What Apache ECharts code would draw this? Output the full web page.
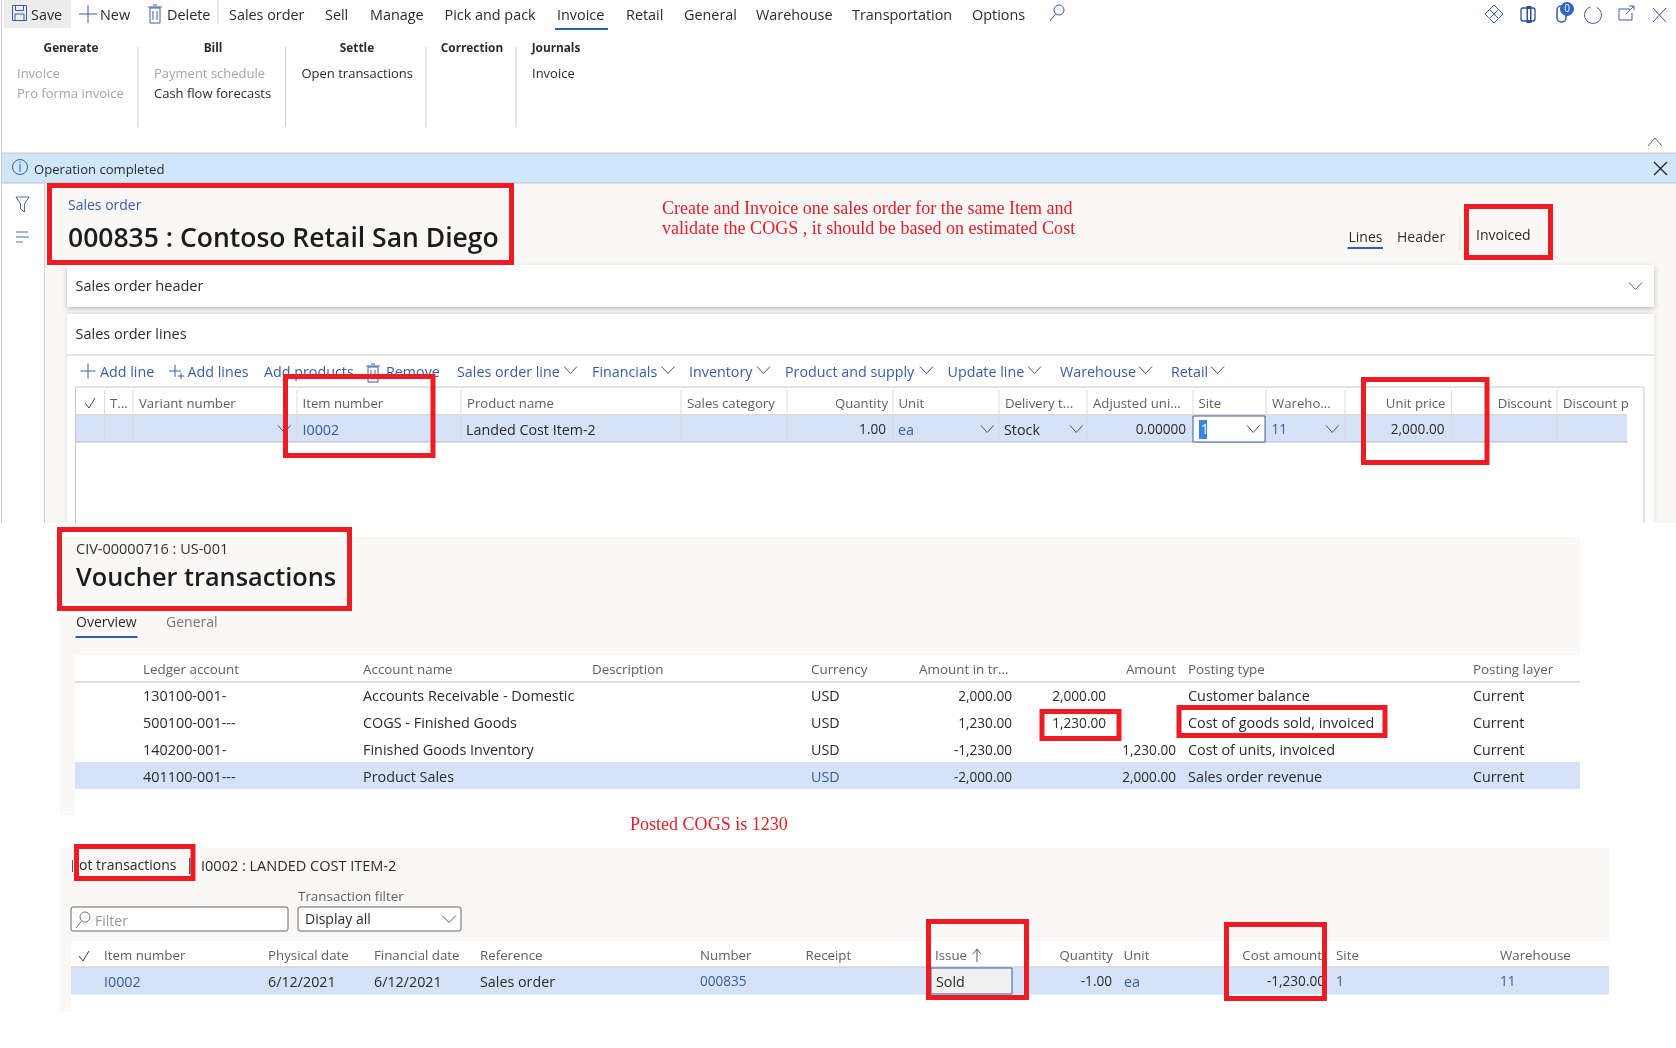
<!DOCTYPE html>
<html><head><meta charset="utf-8">
<style>html,body{margin:0;padding:0;background:#fff}#c{width:1676px;height:1048px}</style>
<script src="https://cdn.jsdelivr.net/npm/echarts@6/dist/echarts.min.js"></script>
</head><body><div id="c"></div>
<script>
// ---------- content ----------
const commandLabels = ['Save','New','Delete','Sales order','Sell','Manage','Pick and pack','Invoice','Retail','General','Warehouse','Transportation','Options'];
const ribbonGroups = ['Generate','Bill','Settle','Correction','Journals'];
const ribbonFirst = ['Invoice','Payment schedule','Open transactions','Invoice'];
const ribbonSecond = ['Pro forma invoice','Cash flow forecasts'];
const noticeText = 'Operation completed';
const orderCrumb = 'Sales order';
const orderTitle = '000835 : Contoso Retail San Diego';
const noteLines = ['Create and Invoice one sales order for the same Item and','validate the COGS , it should be based on estimated Cost'];
const orderTabs = ['Lines','Header','Invoiced'];
const cardTitles = ['Sales order header','Sales order lines'];
const toolbarLabels = ['Add line','Add lines','Add products','Remove','Sales order line','Financials','Inventory','Product and supply','Update line','Warehouse','Retail'];
const orderHeaders = ['T...','Variant number','Item number','Product name','Sales category','Quantity','Unit','Delivery t...','Adjusted uni...','Site','Wareho...','Unit price','Discount','Discount p'];
const orderRow = ['','','I0002','Landed Cost Item-2','','1.00','ea','Stock','0.00000','1','11','2,000.00','',''];
const voucherCrumb = 'CIV-00000716 : US-001';
const voucherTitle = 'Voucher transactions';
const voucherTabs = ['Overview','General'];
const voucherHeaders = ['Ledger account','Account name','Description','Currency','Amount in tr...','Amount','Posting type','Posting layer'];
const ledgerAccounts = ['130100-001-','500100-001---','140200-001-','401100-001---'];
const accountNames = ['Accounts Receivable - Domestic','COGS - Finished Goods','Finished Goods Inventory','Product Sales'];
const currencies = ['USD','USD','USD','USD'];
const amountsInTransaction = ['2,000.00','1,230.00','-1,230.00','-2,000.00'];
const debitAmounts = ['2,000.00','1,230.00','',''];
const creditAmounts = ['','','1,230.00','2,000.00'];
const postingTypes = ['Customer balance','Cost of goods sold, invoiced','Cost of units, invoiced','Sales order revenue'];
const postingLayers = ['Current','Current','Current','Current'];
const postedNote = 'Posted COGS is 1230';
const lotCrumb = ['ot transactions','I0002 : LANDED COST ITEM-2'];
const filterLabels = ['Transaction filter','Filter','Display all'];
const lotHeaders = ['Item number','Physical date','Financial date','Reference','Number','Receipt','Issue','Quantity','Unit','Cost amount','Site','Warehouse'];
const lotRow = ['I0002','6/12/2021','6/12/2021','Sales order','000835','','Sold','-1.00','ea','-1,230.00','1','11'];

// ---------- layout & style ----------
const UI = '"Open Sans","Noto Sans",sans-serif';
const SERIF = '"Liberation Serif",serif';
const INK = '#2b2b2b', GREY = '#5f5f5f', MUTE = '#a6a6a6', LINK = '#3a5ca3', RED = '#ed1c24', HILITE = '#d5e2f8', RULE = '#c6c6c6', PANE = '#f9f8f7';
const els = [];
function T(text, x, y, o) {
  o = o || {};
  if (text === '') return;
  const size = o.s || (/^[-\d,.]+$/.test(text) ? 13.6 : 14.3);
  els.push({type:'text', silent:true, z:o.z||3, style:{text, x, y:y+1, fill:o.c||INK, align:o.a||'left', verticalAlign:'middle',
    font:`${o.w||400} ${size}px ${o.f||UI}`}});
}
function R(x, y, w, h, fill, o) {
  o = o || {};
  els.push({type:'rect', silent:true, z:o.z||1, shape:{x, y, width:w, height:h, r:o.r||0},
    style:{fill, stroke:o.st||null, lineWidth:o.lw||1, shadowBlur:o.sb||0, shadowColor:o.sc||'transparent', shadowOffsetY:o.sy||0}});
}
function L(pts, c, o) {
  o = o || {};
  els.push({type:'polyline', silent:true, z:o.z||2, shape:{points:pts}, style:{stroke:c, lineWidth:o.lw||1, fill:null}});
}
function C(cx, cy, r, c, o) {
  o = o || {};
  els.push({type:'circle', silent:true, z:o.z||2, shape:{cx, cy, r}, style:{stroke:c, lineWidth:o.lw||1, fill:o.fill||null}});
}
function box(x0, y0, x1, y1) {
  const t = 5;
  els.push({type:'rect', silent:true, z:10, shape:{x:x0+t/2, y:y0+t/2, width:x1-x0-t, height:y1-y0-t},
    style:{fill:null, stroke:RED, lineWidth:t}});
}
function chev(x, y, c, w) { w=w||13; L([[x,y-3.5],[x+w/2,y+3.5],[x+w,y-3.5]], c||'#555'); }
function plus(x, y, s, c) { L([[x-s,y],[x+s,y]],c); L([[x,y-s],[x,y+s]],c); }
function trash(x, y, c) {
  R(x+1,y+3,10,15,null,{st:c,z:2}); L([[x-1,y+2],[x+13,y+2]],c); L([[x+4,y],[x+8,y]],c);
  L([[x+4,y+6],[x+4,y+15]],c); L([[x+8,y+6],[x+8,y+15]],c);
}
function vline(x, y0, y1, c) { L([[x,y0],[x,y1]], c||'#d8d8d8'); }
function hline(x0, x1, y, c) { L([[x0,y],[x1,y]], c||RULE); }
function search(x, y, c) { C(x+9,y+5,5,c); L([[x+5.5,y+9],[x,y+16]],c); }

// ---- page panes
R(45,184,1631,339,PANE);
R(2,153,1674,30,'#cfe6fb');
hline(2,1676,153,'#c4c8cc'); hline(2,1676,183,'#b9c2c9');
vline(1.5,0,523,'#cfcfcf'); vline(44.5,184,523,'#cfcfcf');

// ---- command bar
R(4,0,67,28,'#ececec');
const commandX = [31,100,167,229,325,370,444.5,557,626,684,756,852,972];
commandLabels.forEach((t,i)=>T(t,commandX[i],15,{s:14.4}));
R(12.5,5.5,14,15,null,{st:LINK}); R(15.5,5.5,8,5,null,{st:LINK}); R(15,14,9,6.5,null,{st:LINK});
plus(88,14,9,LINK);
trash(149,5,LINK);
vline(218,0,24,'#dadada');
R(555,28,53,2,'#2f5fb3');
search(1050,5,LINK);
L([[1494,5],[1503,14],[1494,23],[1485,14],[1494,5]],LINK); L([[1490,10],[1498,18]],LINK); L([[1498,10],[1490,18]],LINK);
R(1521,8,14,13,null,{st:'#2c4f97',lw:1.3,r:2}); R(1526.5,6,5,17,'#2c4f97'); R(1528,9,2,11,'#fff',{z:2});
R(1557,6,9,16,null,{st:LINK,lw:1.5,r:4});
C(1567,9,6.5,'#2f63c4',{fill:'#2f63c4'}); T('0',1567,8,{c:'#fff',s:10,a:'center',z:4});
els.push({type:'arc',silent:true,z:2,shape:{cx:1593,cy:15,r:8.5,startAngle:-1.1,endAngle:-1.9,clockwise:true},style:{stroke:LINK,lineWidth:1,fill:null}});
L([[1630,9],[1619,9],[1619,20],[1632,20],[1632,13]],LINK); L([[1626,14],[1634,6]],LINK); L([[1629,6],[1634,6],[1634,10]],LINK);
L([[1653,8],[1666,22]],LINK); L([[1666,8],[1653,22]],LINK);

// ---- ribbon
const ribbonCenters = [71,213,357,472,556];
ribbonGroups.forEach((t,i)=>T(t,ribbonCenters[i],48,{w:700,s:11.8,a:'center'}));
const firstX = [17,154,301.5,532];
const firstC = [MUTE,MUTE,INK,INK];
ribbonFirst.forEach((t,i)=>T(t,firstX[i],73,{c:firstC[i],s:13}));
T(ribbonSecond[0],17,93,{c:MUTE,s:13});
T(ribbonSecond[1],154,93,{s:13});
[138,285.5,426,516].forEach(x=>vline(x,47,127,'#cfcfcf'));
L([[1648,146],[1655,138],[1662,146]],'#666');

// ---- notice
C(20,167,7.5,LINK); vline(20,164,172,LINK); R(19.5,161.5,1,1.5,LINK,{z:2});
T(noticeText,34,169.5,{s:13.1});
L([[1654,162],[1667,175]],'#222',{lw:1.2}); L([[1667,162],[1654,175]],'#222',{lw:1.2});

// ---- side icons
L([[16,197],[29,197],[24.5,204],[24.5,212],[20.5,209],[20.5,204],[16,197]],'#4a6aad');
[232,237,242].forEach((y,i)=>hline(16,i==1?29:(i==0?28:23),y,'#4a6aad'));

// ---- order header
T(orderCrumb,68,205,{c:LINK,s:14});
T(orderTitle,68,238.5,{s:26.5,w:600,c:'#1c1c1c'});
noteLines.forEach((t,i)=>T(t,662,208+20*i,{c:'#e3202a',s:18.05,f:SERIF}));
T(orderTabs[0],1348.5,237,{s:14}); R(1347.5,247,35.5,2,'#2f5fb3');
T(orderTabs[1],1397,237,{s:14,c:'#333'}); vline(1460,217,250,'#e0e0e0');
T(orderTabs[2],1476,235.5,{s:14});

// ---- cards
R(67,265,1587,42,'#fff',{sb:5,sc:'rgba(0,0,0,.28)',sy:1.5});
T(cardTitles[0],75.5,285.5,{s:14.5});
chev(1629,286,'#666');
R(67,314,1587,209,'#fff',{sb:4,sc:'rgba(0,0,0,.15)'});
T(cardTitles[1],75.5,333.5,{s:14.5});
hline(67,1654,355,'#c8c8c8');

// ---- toolbar
const toolbarX = [100,187.5,264,386,457,592,689,785,947.5,1060,1171];
toolbarLabels.forEach((t,i)=>T(t,toolbarX[i],371.5,{c:LINK,s:14.3}));
plus(88,371,7.5,LINK); plus(175,371,6,LINK); plus(181,376,3,LINK);
trash(367,364,LINK);
[564,661.5,757,920,1028,1139,1211].forEach(x=>chev(x,370,'#3d4f78',13));

// ---- sales order grid
R(76,416,1551,26,HILITE);
hline(75.5,1644,387,'#c9c9c9'); hline(76,1627,415,'#b9b9b9'); hline(76,1627,442,'#b9b9b9');
vline(75.5,387,523,'#c9c9c9'); vline(1644,387,523,'#c9c9c9');
[104.5,133,297,461,681,787,893,999,1087,1193,1266,1345,1451.5,1557].forEach(x=>vline(x,390,442,'#dcdcdc'));
L([[85,403],[89,408],[95,398]],'#444');
const orderHeaderX = [110,139,302.5,467,687,888,898.5,1005,1093,1198.5,1272,1445.5,1552,1563];
const orderHeaderA = ['left','left','left','left','left','right','left','left','left','left','left','right','right','left'];
orderHeaders.forEach((t,i)=>T(t,orderHeaderX[i],403.5,{c:GREY,s:13.2,a:orderHeaderA[i]}));
const orderRowX = [0,0,302.5,466,0,886,898,1004,1186,1201,1271.5,1444.5,0,0];
const orderRowA = ['left','left','left','left','left','right','left','left','right','left','left','right','left','left'];
const orderRowC = [INK,INK,LINK,INK,INK,INK,LINK,INK,INK,'#fff',LINK,INK,INK,INK];
R(1193,416,72,26,'#fff',{st:LINK,z:2}); R(1199,420,8,19,'#3b84e0',{z:2});
orderRow.forEach((t,i)=>T(t,orderRowX[i],429.5,{a:orderRowA[i],c:orderRowC[i]}));
[278,981,1070,1247,1326].forEach(x=>chev(x,429,'#555',12.5));

// ---- voucher panel
R(0,523,1676,525,'#fff');
R(60,537,1520,278,PANE);
R(75,655,1505,160,'#fff');
T(voucherCrumb,76,548.5,{s:14.5,c:'#333'});
T(voucherTitle,76,577.5,{s:25.3,w:600,c:'#1c1c1c'});
T(voucherTabs[0],76,622.5,{s:14}); R(75.5,636,62,2,'#2f5fb3');
T(voucherTabs[1],166,622.5,{s:14,c:'#777'});
const voucherHeaderX = [143,363,592,811,1008.5,1176,1188,1473];
const voucherHeaderA = ['left','left','left','left','right','right','left','left'];
voucherHeaders.forEach((t,i)=>T(t,voucherHeaderX[i],669.5,{c:GREY,s:13.4,a:voucherHeaderA[i]}));
hline(75,1580,682,'#bdbdbd');
R(75,762,1505,27,HILITE);
const voucherRowY = [696,723,750,777];
voucherRowY.forEach((y,i)=>{
  T(ledgerAccounts[i],143,y,{s:14.4});
  T(accountNames[i],363,y,{s:14.4});
  T(currencies[i],811,y,{c:i==3?LINK:INK});
  T(amountsInTransaction[i],1012,y,{a:'right'});
  T(debitAmounts[i],1106,y,{a:'right'});
  T(creditAmounts[i],1176,y,{a:'right'});
  T(postingTypes[i],1188,y,{s:14.4});
  T(postingLayers[i],1473,y);
});
T(postedNote,630,824.5,{c:'#e3202a',s:18.05,f:SERIF});

// ---- lot panel
R(59,848,1550,164,PANE);
R(71,941,1538,71,'#fff');
vline(72.5,860,872,'#555');
T(lotCrumb[0],79,865.5,{s:14});
R(189,858,1.5,16,'#555',{z:2});
T(lotCrumb[1],201,865.5,{s:14.5});
T(filterLabels[0],298,896.5,{c:GREY,s:13.4});
R(71,907,217,24,'#fff',{st:'#666',r:2});
search(76,912,'#777');
T(filterLabels[1],95,921.5,{c:'#999',s:14});
R(298,907,163,24,'#fff',{st:'#666',r:2});
T(filterLabels[2],305,919.5,{s:14});
chev(442,919,'#555',14);
hline(71,1609,967,'#bdbdbd');
R(71,967.5,1538,27,HILITE);
L([[79,956],[83,961],[89,951]],'#444');
const lotHeaderX = [104,268,374,480,700,805.5,935,1113,1123.5,1322,1336,1500];
const lotHeaderA = ['left','left','left','left','left','left','left','right','left','right','left','left'];
lotHeaders.forEach((t,i)=>T(t,lotHeaderX[i],955.5,{c:GREY,s:13.3,a:lotHeaderA[i]}));
vline(977,950,962,'#555'); L([[973,954],[977,949],[981,954]],'#555');
R(931,968,81,26,'#f0f0f0',{st:LINK,z:2});
const lotRowX = [104,268,374,480,700,0,936,1112,1124,1325,1336,1500];
const lotRowA = ['left','left','left','left','left','left','left','right','left','right','left','left'];
const lotRowC = [LINK,INK,INK,INK,LINK,INK,INK,INK,LINK,INK,LINK,LINK];
lotRow.forEach((t,i)=>T(t,lotRowX[i],981.5,{a:lotRowA[i],c:lotRowC[i]}));

// ---- annotation frames
[[47,183,514,265],[1464,204,1553,260],[283,374,435.5,458],[1361,377,1489.5,465],
 [57,527,352,611],[1039.5,709,1121.5,741],[1176.5,705,1387.5,738],
 [74,844,195.5,881],[926,919,1029,1000],[1224,922,1327,1001]].forEach(b=>box(...b));

const chart = echarts.init(document.getElementById('c'), null, {renderer:'canvas', width:1676, height:1048});
chart.setOption({animation:false, backgroundColor:'#fff', graphic:{elements:els}});
</script></body></html>
